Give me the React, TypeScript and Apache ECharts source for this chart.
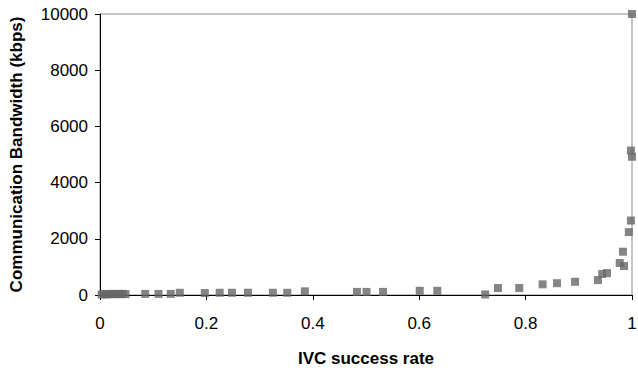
import React, { useEffect, useRef } from "react";
import * as echarts from "echarts";

const successRate = [
  0.003, 0.008, 0.013, 0.018, 0.023, 0.028, 0.033, 0.038, 0.043, 0.048,
  0.085, 0.11, 0.133, 0.15, 0.197, 0.225, 0.248, 0.278, 0.325, 0.352, 0.385,
  0.483, 0.501, 0.532, 0.601, 0.634, 0.724, 0.748, 0.788, 0.832, 0.859, 0.893,
  0.936, 0.944, 0.953, 0.977, 0.983, 0.985, 0.994, 0.998, 0.998, 1.0, 1.0,
];
const bandwidth = [
  20, 30, 20, 40, 30, 30, 40, 30, 40, 30,
  40, 40, 40, 80, 70, 80, 80, 80, 80, 80, 130,
  110, 110, 110, 150, 150, 20, 250, 250, 380, 420, 470,
  530, 750, 780, 1140, 1540, 1030, 2240, 2650, 5140, 4920, 10000,
];

const font = "Liberation Sans, Arial, Helvetica, sans-serif";

export default function App() {
  const ref = useRef<HTMLDivElement>(null);
  useEffect(() => {
    if (!ref.current) return;
    const chart = echarts.init(ref.current, null, { renderer: "svg" });
    const data = successRate.map((x, i) => [x, bandwidth[i]]);
    chart.setOption({
      animation: false,
      backgroundColor: "#ffffff",
      grid: {
        left: 100,
        right: 6,
        top: 14,
        bottom: 73,
        show: true,
        borderColor: "#8c8c8c",
        borderWidth: 1,
        containLabel: false,
        outerBoundsMode: "none",
      },
      xAxis: {
        type: "value",
        min: 0,
        max: 1,
        interval: 0.2,
        name: "IVC success rate",
        nameLocation: "middle",
        nameGap: 55,
        nameTextStyle: { fontFamily: font, fontSize: 17, fontWeight: "bold", color: "#000" },
        axisLine: { show: true, lineStyle: { color: "#000", width: 1 } },
        axisTick: { show: true, length: 5, lineStyle: { color: "#000" } },
        axisLabel: { fontFamily: font, fontSize: 17, color: "#000", margin: 20 },
        splitLine: { show: false },
      },
      yAxis: {
        type: "value",
        min: 0,
        max: 10000,
        interval: 2000,
        name: "Communication Bandwidth (kbps)",
        nameLocation: "middle",
        nameGap: 75,
        nameTextStyle: { fontFamily: font, fontSize: 17, fontWeight: "bold", color: "#000" },
        axisLine: { show: true, lineStyle: { color: "#000", width: 1 } },
        axisTick: { show: true, length: 5, lineStyle: { color: "#000" } },
        axisLabel: {
          fontFamily: font,
          fontSize: 17,
          color: "#000",
          margin: 12,
          formatter: (v: number) => String(v),
        },
        splitLine: { show: false },
      },
      series: [
        {
          type: "scatter",
          data,
          symbol: "rect",
          symbolSize: 8,
          clip: false,
          itemStyle: { color: "#666666" },
        },
      ],
    });
    return () => chart.dispose();
  }, []);
  return (
    <div
      ref={ref}
      style={{ position: "fixed", left: 0, top: 0, width: 638, height: 368 }}
    />
  );
}
